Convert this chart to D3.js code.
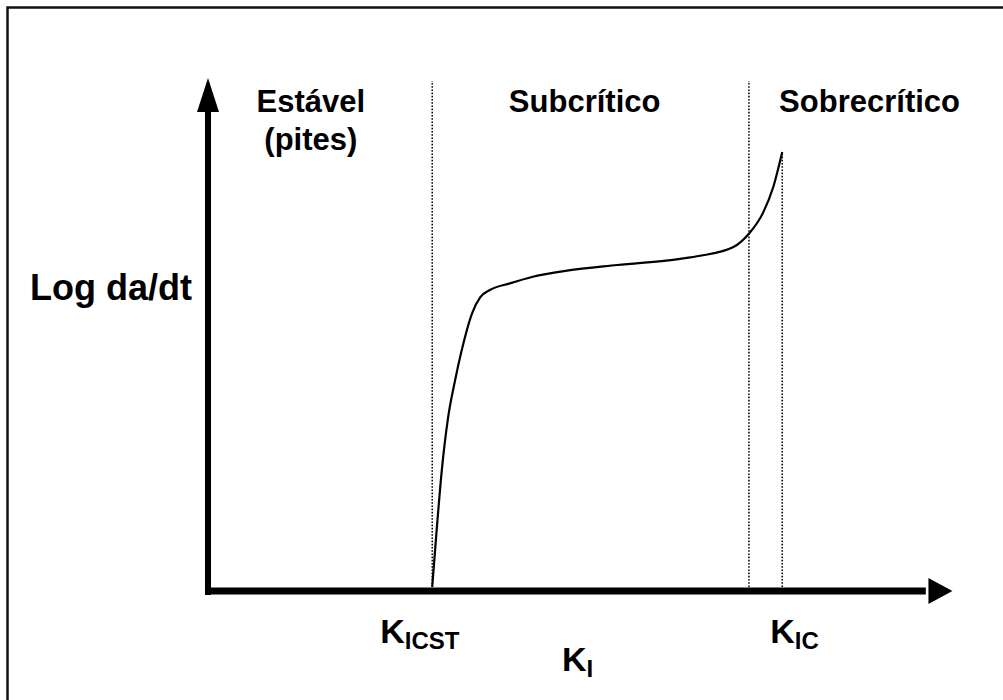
<!DOCTYPE html>
<html><head><meta charset="utf-8">
<script src="https://cdn.jsdelivr.net/npm/d3@7"></script>
<style>
html,body{margin:0;padding:0;background:#fff;}
svg{display:block;}
text{font-family:Arial,"Liberation Sans",sans-serif;font-weight:bold;fill:#000;}
</style></head>
<body>
<script>
// Curve data (arbitrary units: K_I on x, log da/dt on y)
const kValues   = [3.03, 3.09, 3.16, 3.24, 3.34, 3.43, 3.57, 3.68, 3.81, 4.08, 4.39, 4.85, 5.53, 6.38, 6.65, 7.10, 7.32, 7.50, 7.64, 7.76];
const rateValues= [0.08, 1.19, 2.37, 3.35, 4.13, 4.72, 5.44, 5.75, 5.89, 6.02, 6.15, 6.27, 6.38, 6.50, 6.56, 6.73, 7.01, 7.40, 7.91, 8.59];
// Region boundaries
const kIcst = 3.03;
const kScc = 7.31;
const kIc = 7.76;
const boundaryValues = [kIcst, kScc, kIc];
const boundaryTops = [10, 10, 8.59];
// Region labels
const regionLabels = [["Estável", "(pites)"], ["Subcrítico"], ["Sobrecrítico"]];
const regionCenters = [1.39, 5.09, 8.94];
const yLabel = "Log da/dt";
const kLabels = [{main:"K", sub:"ICST", k:kIcst}, {main:"K", sub:"IC", k:kIc}];
const xLabel = {main:"K", sub:"I"};

const W = 1003, H = 700;
const svg = d3.select("body").append("svg").attr("width", W).attr("height", H);

const x = d3.scaleLinear().domain([0, 10]).range([208, 948]);
const y = d3.scaleLinear().domain([0, 10]).range([591, 80]);

// frame
svg.append("rect").attr("x", 7.5).attr("y", 7.5).attr("width", 1010).attr("height", 710)
  .attr("fill", "none").attr("stroke", "#111").attr("stroke-width", 2.5);

// dotted boundaries
svg.selectAll("line.bd").data(boundaryValues).join("line").attr("class", "bd")
  .attr("x1", d => x(d)).attr("x2", d => x(d))
  .attr("y1", y(0) - 4).attr("y2", (d, i) => y(boundaryTops[i]) + 1)
  .attr("stroke", "#000").attr("stroke-width", 1.5).attr("stroke-dasharray", "1.6,1.6");

// axes (domain lines only)
const xAxis = d3.axisBottom(x).tickValues([]).tickSizeOuter(0);
const yAxis = d3.axisLeft(y).tickValues([]).tickSizeOuter(0);
const gx = svg.append("g").attr("transform", `translate(0,${y(0)})`).call(xAxis);
gx.select(".domain").attr("stroke", "#000").attr("stroke-width", 7)
  .attr("d", `M${x(0) - 3},0H${x(9.7)}`);
const gy = svg.append("g").attr("transform", `translate(${x(0)},0)`).call(yAxis);
gy.select(".domain").attr("stroke", "#000").attr("stroke-width", 6)
  .attr("d", `M0,${y(0) + 4}V${y(9.4)}`);

// arrowheads
const xt = x(10.06), yt = y(0);
svg.append("path").attr("d", `M${xt},${yt}L${xt - 24},${yt - 13}L${xt - 24},${yt + 13}Z`).attr("fill", "#000");
const ax = x(0), ay = y(10.04);
svg.append("path").attr("d", `M${ax},${ay}L${ax - 11},${ay + 34}L${ax + 11},${ay + 34}Z`).attr("fill", "#000");

// curve
const pts = kValues.map((k, i) => [k, rateValues[i]]);
svg.append("path").datum(pts)
  .attr("d", d3.line().x(d => x(d[0])).y(d => y(d[1])).curve(d3.curveMonotoneX))
  .attr("fill", "none").attr("stroke", "#000").attr("stroke-width", 2.2);

// region labels
regionLabels.forEach((lines, i) => {
  lines.forEach((t, j) => {
    svg.append("text").attr("x", x(regionCenters[i])).attr("y", 112 + j * 38)
      .attr("text-anchor", "middle").attr("font-size", 31).text(t);
  });
});

// y label
svg.append("text").attr("x", 30).attr("y", 300).attr("font-size", 36).text(yLabel);

// K labels
function kText(xpos, ypos, main, sub) {
  const t = svg.append("text").attr("x", xpos).attr("y", ypos).attr("font-size", 34);
  t.append("tspan").text(main);
  t.append("tspan").attr("font-size", 24).attr("dy", 6).text(sub);
}
kLabels.forEach((d, i) => {
  kText(i === 0 ? x(d.k) - 52 : x(d.k) - 12, 643, d.main, d.sub);
});
kText(562, 671, xLabel.main, xLabel.sub);
</script>
</body></html>
